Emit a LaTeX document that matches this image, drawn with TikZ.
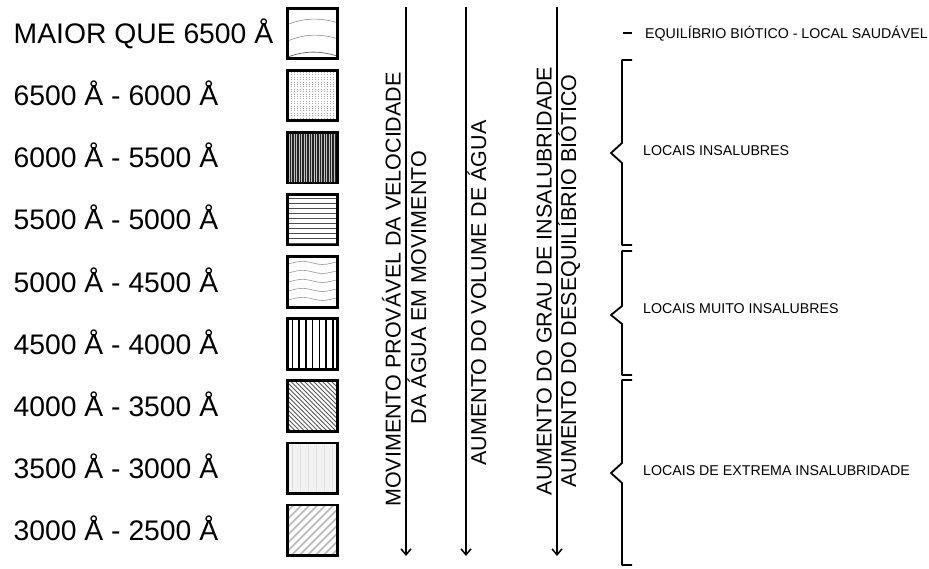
\documentclass[tikz,border=0pt]{standalone}
\usepackage{fontspec}
\setmainfont{Liberation Sans}
\usetikzlibrary{arrows.meta,backgrounds}
\begin{document}
\begin{tikzpicture}[x=1pt,y=-1pt,
  lab/.style={anchor=west, inner sep=0pt, font=\fontsize{28.3}{30}\selectfont, text height=20.2pt, text depth=0pt},
  swatch/.style={draw, line width=2.8pt, minimum width=49.5pt, minimum height=50.5pt, inner sep=0pt},
  vtext/.style={rotate=90, inner sep=0pt, font=\fontsize{21.5}{24}\selectfont, text height=15.4pt, text depth=0pt},
  rtext/.style={anchor=west, inner sep=0pt, font=\fontsize{14.2}{16}\selectfont, text height=10.2pt, text depth=0pt},
  axis/.style={line width=1.5pt, -{Straight Barb[length=6pt,width=10pt]}},
  brace/.style={line width=1.8pt, line join=round, line cap=butt},
]
\useasboundingbox (0,0) rectangle (929,568);

% labels and swatches
\foreach \i/\t in {1/MAIOR QUE 6500 Å, 2/6500 Å - 6000 Å, 3/6000 Å - 5500 Å, 4/5500 Å - 5000 Å, 5/5000 Å - 4500 Å, 6/4500 Å - 4000 Å, 7/4000 Å - 3500 Å, 8/3500 Å - 3000 Å, 9/3000 Å - 2500 Å}{
  \pgfmathsetmacro{\cy}{33.5+62.1*(\i-1)}
  \node[lab] (l\i) at (13.5,\cy) {\t};
  \node[swatch] (s\i) at (312.5,\cy) {};
}

\begin{scope}[on background layer]
  % 1: few arched lines
  \begin{scope}[shift={(s1.center)}]
    \clip (-25,-25.5) rectangle (25,25.5);
    \draw[black!45, line width=0.6pt] (-26,-8.5) .. controls (-8,-16) and (8,-16) .. (26,-10.5);
    \draw[black!45, line width=0.6pt] (-26,8) .. controls (-8,0) and (8,0) .. (26,5.5);
    \draw[black!55, line width=0.8pt] (-26,24) .. controls (-8,17) and (8,17) .. (26,23);
  \end{scope}
  % 2: light stipple
  \begin{scope}[shift={(s2.center)}]
    \clip (-25,-25.5) rectangle (25,25.5);
    \foreach \x in {-24,-21,...,24}
      \draw[black!35, line width=0.5pt, dash pattern=on 0.8pt off 1.6pt] (\x,-26) -- (\x,26);
  \end{scope}
  % 3: dense dark vertical
  \begin{scope}[shift={(s3.center)}]
    \clip (-25,-25.5) rectangle (25,25.5);
    \fill[black!25] (-26,-27) rectangle (26,27);
    \foreach \x in {-24.5,-22,...,25}
      \draw[black!85, line width=1.1pt] (\x,-26) -- (\x,26);
  \end{scope}
  % 4: horizontal lines
  \begin{scope}[shift={(s4.center)}]
    \clip (-25,-25.5) rectangle (25,25.5);
    \foreach \y in {-21,-16,...,24}
      \draw[black!70, line width=0.9pt] (-26,\y) -- (26,\y);
  \end{scope}
  % 5: wavy light lines
  \begin{scope}[shift={(s5.center)}]
    \clip (-25,-25.5) rectangle (25,25.5);
    \foreach \y in {-19,-10,-1,8,17}
      \draw[black!40, line width=0.6pt] plot[smooth, domain=-26:26, samples=14] (\x,{\y+1.6*sin(9*\x)});
  \end{scope}
  % 6: bold vertical lines
  \begin{scope}[shift={(s6.center)}]
    \clip (-25,-25.5) rectangle (25,25.5);
    \foreach \x in {-20,-13.3,...,21}
      \draw[black, line width=1.6pt] (\x,-26) -- (\x,26);
  \end{scope}
  % 7: dense diagonal (NW-SE)
  \begin{scope}[shift={(s7.center)}]
    \clip (-25,-25.5) rectangle (25,25.5);
    \foreach \t in {-60,-55.5,...,60}
      \draw[black!65, line width=0.9pt] (\t-30,-30) -- (\t+30,30);
  \end{scope}
  % 8: very light texture
  \begin{scope}[shift={(s8.center)}]
    \clip (-25,-25.5) rectangle (25,25.5);
    \fill[black!5] (-26,-27) rectangle (26,27);
    \foreach \x in {-20,-12,...,24}
      \draw[black!12, line width=1.5pt] (\x,-26) -- (\x,26);
  \end{scope}
  % 9: light diagonal (SW-NE)
  \begin{scope}[shift={(s9.center)}]
    \clip (-25,-25.5) rectangle (25,25.5);
    \foreach \t in {-60,-52,...,60}
      \draw[black!28, line width=1.6pt] (\t-30,30) -- (\t+30,-30);
  \end{scope}
\end{scope}

% arrows
\coordinate (a1s) at (406,7);   \coordinate (a1e) at (406,556);
\coordinate (a2s) at (466,7);   \coordinate (a2e) at (466,556);
\coordinate (a3s) at (557,7);   \coordinate (a3e) at (557,556);
\draw[axis] (a1s) -- (a1e);
\draw[axis] (a2s) -- (a2e);
\draw[axis] (a3s) -- (a3e);

\node[vtext] (v1a) at (393,289.5) {MOVIMENTO PROVÁVEL DA VELOCIDADE};
\node[vtext] (v1b) at (418.5,287.5) {DA ÁGUA EM MOVIMENTO};
\node[vtext] (v2) at (478.5,293) {AUMENTO DO VOLUME DE ÁGUA};
\node[vtext] (v3a) at (544,281) {AUMENTO DO GRAU DE INSALUBRIDADE};
\node[vtext] (v3b) at (568.5,281) {AUMENTO DO DESEQUILÍBRIO BIÓTICO};

% right column
\draw[line width=1.8pt] (623,33) -- (632,33);
\node[rtext] (r0) at (645,33) {EQUILÍBRIO BIÓTICO - LOCAL SAUDÁVEL};

\draw[brace] (632,60) -- (622,60) -- (622,143) -- (611,153) -- (622,163) -- (622,245) -- (632,245);
\node[rtext] (r1) at (643,150) {LOCAIS INSALUBRES};

\draw[brace] (632,251) -- (622,251) -- (622,306) -- (611,315) -- (622,324) -- (622,375) -- (632,375);
\node[rtext] (r2) at (643,308) {LOCAIS MUITO INSALUBRES};

\draw[brace] (632,380) -- (622,380) -- (622,463) -- (611,473) -- (622,483) -- (622,565) -- (632,565);
\node[rtext] (r3) at (643,470) {LOCAIS DE EXTREMA INSALUBRIDADE};
\end{tikzpicture}
\end{document}
